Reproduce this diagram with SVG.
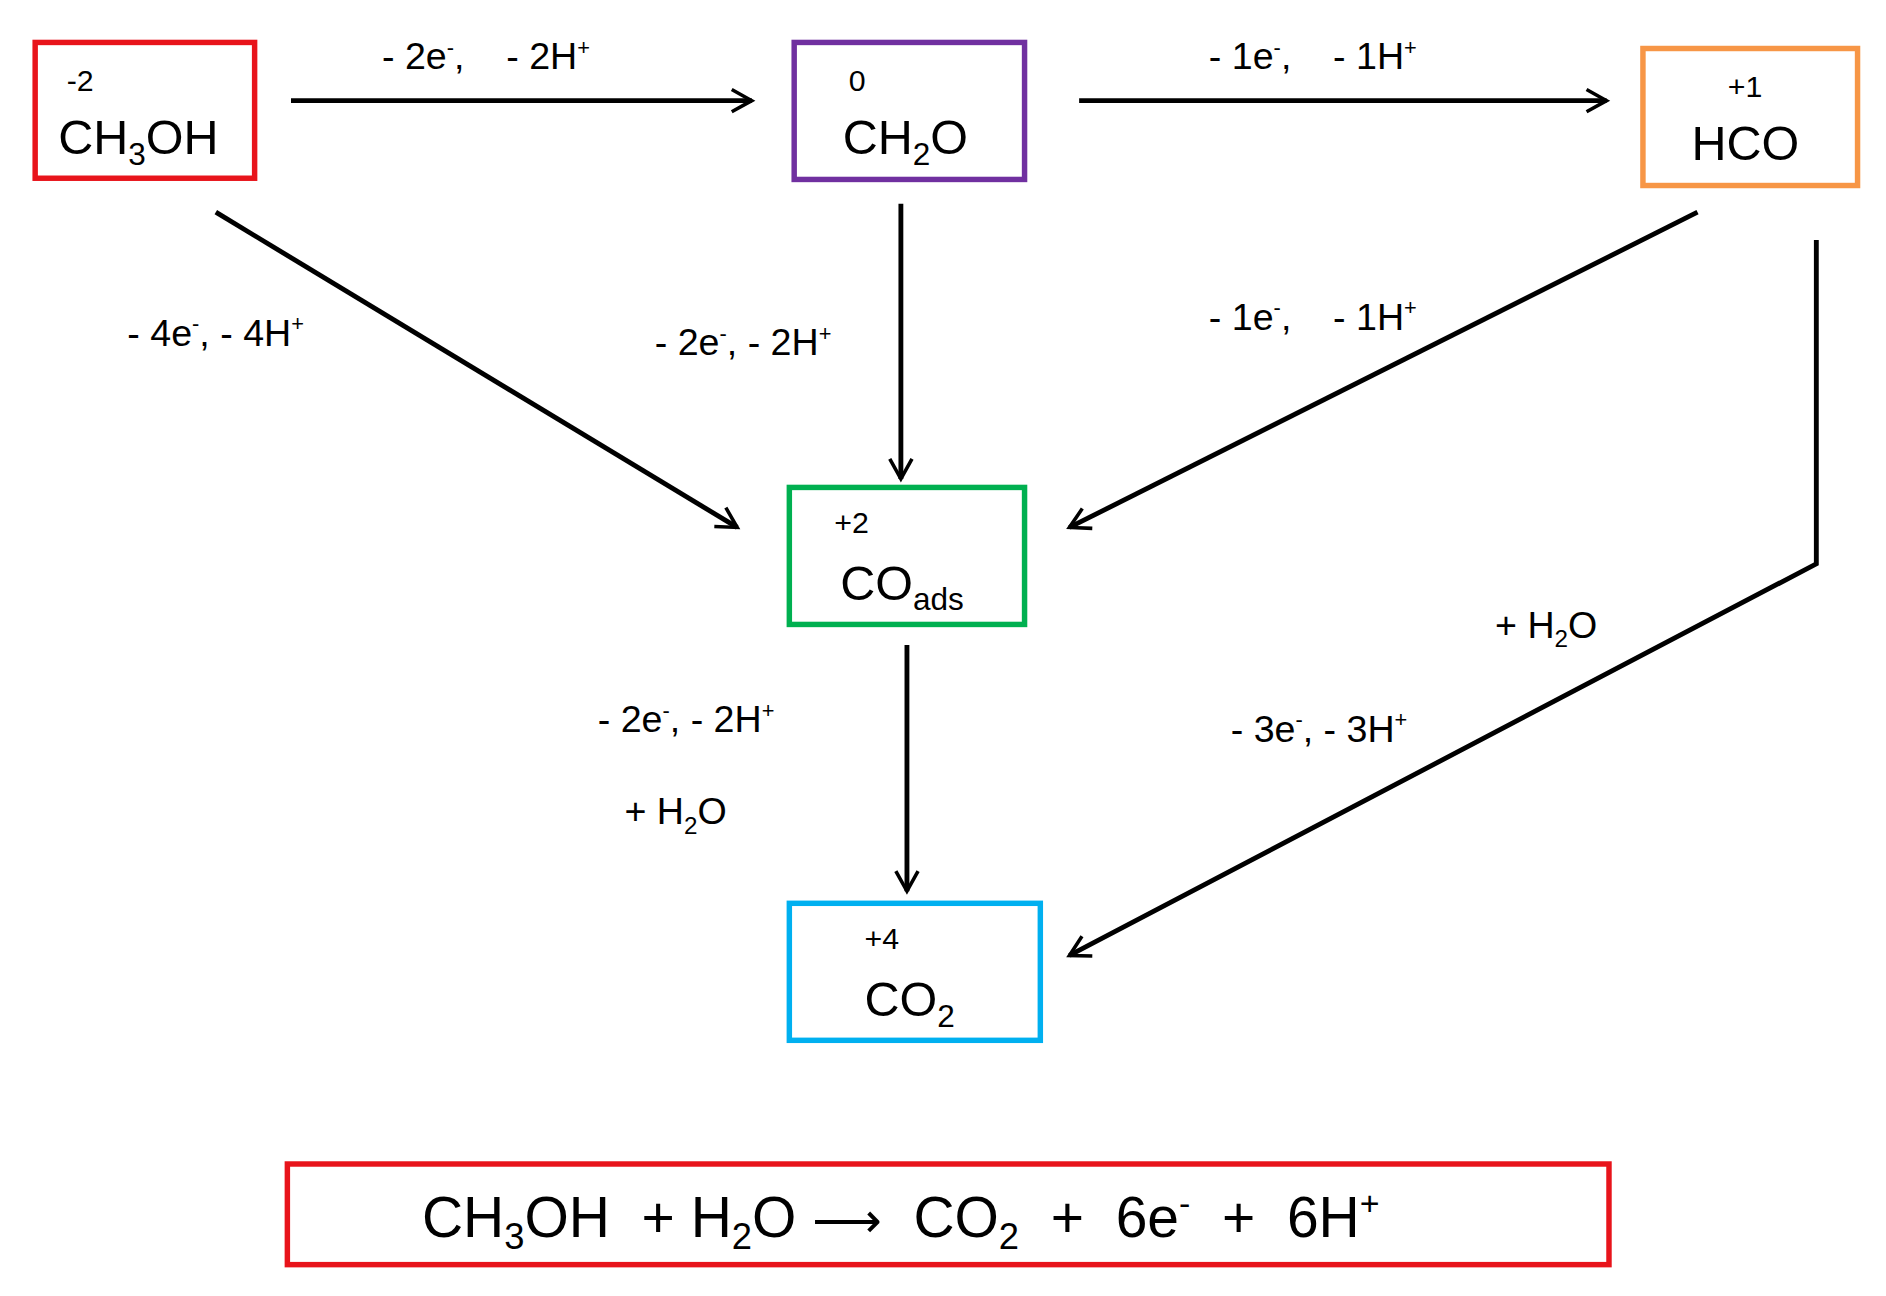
<svg xmlns="http://www.w3.org/2000/svg" width="1886" height="1296" viewBox="0 0 1886 1296">
<style>
text{font-family:"Liberation Sans",Arial,sans-serif;fill:#000}
.box{fill:none;stroke-width:4.5}
.lbl{font-size:31px}
.big{font-size:40px}
.ox{font-size:25px}
.con{stroke:#000;stroke-width:4;fill:none}
</style>
<defs>
<marker id="ah" viewBox="0 0 12 12" refX="10" refY="6" markerWidth="22" markerHeight="22" orient="auto" markerUnits="userSpaceOnUse">
<path d="M1,1 L10,6 L1,11" fill="none" stroke="#000" stroke-width="1.6"/>
</marker>
</defs>
<rect width="1886" height="1296" fill="#fff"/>
<g transform="scale(1.2125)">
<g id="connectors">
<path class="con" d="M240,83 L620,83" marker-end="url(#ah)"/>
<path class="con" d="M890,83 L1325,83" marker-end="url(#ah)"/>
<path class="con" d="M178,175 L608,435" marker-end="url(#ah)"/>
<path class="con" d="M743,168 L743,395" marker-end="url(#ah)"/>
<path class="con" d="M1400,175 L882,435" marker-end="url(#ah)"/>
<path class="con" d="M1498,198 L1498,465 L882,788" marker-end="url(#ah)"/>
<path class="con" d="M748,532 L748,735" marker-end="url(#ah)"/>
<text class="lbl" x="315" y="57" xml:space="preserve">- 2e<tspan font-size="18" dy="-12">-</tspan><tspan dy="12">,    - 2H</tspan><tspan font-size="18" dy="-12">+</tspan></text>
<text class="lbl" x="997" y="57" xml:space="preserve">- 1e<tspan font-size="18" dy="-12">-</tspan><tspan dy="12">,    - 1H</tspan><tspan font-size="18" dy="-12">+</tspan></text>
<text class="lbl" x="105" y="285" xml:space="preserve">- 4e<tspan font-size="18" dy="-12">-</tspan><tspan dy="12">, - 4H</tspan><tspan font-size="18" dy="-12">+</tspan></text>
<text class="lbl" x="540" y="293" xml:space="preserve">- 2e<tspan font-size="18" dy="-12">-</tspan><tspan dy="12">, - 2H</tspan><tspan font-size="18" dy="-12">+</tspan></text>
<text class="lbl" x="997" y="272" xml:space="preserve">- 1e<tspan font-size="18" dy="-12">-</tspan><tspan dy="12">,    - 1H</tspan><tspan font-size="18" dy="-12">+</tspan></text>
<text class="lbl" x="493" y="604" xml:space="preserve">- 2e<tspan font-size="18" dy="-12">-</tspan><tspan dy="12">, - 2H</tspan><tspan font-size="18" dy="-12">+</tspan></text>
<text class="lbl" x="515" y="680">+ H<tspan font-size="20" dy="8">2</tspan><tspan dy="-8">O</tspan></text>
<text class="lbl" x="1233" y="526">+ H<tspan font-size="20" dy="8">2</tspan><tspan dy="-8">O</tspan></text>
<text class="lbl" x="1015" y="612" xml:space="preserve">- 3e<tspan font-size="18" dy="-12">-</tspan><tspan dy="12">, - 3H</tspan><tspan font-size="18" dy="-12">+</tspan></text>
</g>
<g id="n-ch3oh">
<rect class="box" x="29" y="35" width="181" height="112" stroke="#E8141B"/>
<text class="ox" x="55" y="75">-2</text>
<text class="big" x="48" y="127">CH<tspan font-size="26" dy="9">3</tspan><tspan dy="-9">OH</tspan></text>
</g>
<g id="n-ch2o">
<rect class="box" x="655" y="35" width="190" height="113" stroke="#7030A0"/>
<text class="ox" x="700" y="75">0</text>
<text class="big" x="695" y="127">CH<tspan font-size="26" dy="9">2</tspan><tspan dy="-9">O</tspan></text>
</g>
<g id="n-hco">
<rect class="box" x="1355" y="40" width="177" height="113" stroke="#F79646"/>
<text class="ox" x="1425" y="80">+1</text>
<text class="big" x="1395" y="132">HCO</text>
</g>
<g id="n-coads">
<rect class="box" x="651" y="402" width="194" height="113" stroke="#00B050"/>
<text class="ox" x="688" y="440">+2</text>
<text class="big" x="693" y="495">CO<tspan font-size="26" dy="8">ads</tspan></text>
</g>
<g id="n-co2">
<rect class="box" x="651" y="745" width="207" height="113" stroke="#00B0F0"/>
<text class="ox" x="713" y="783">+4</text>
<text class="big" x="713" y="838">CO<tspan font-size="26" dy="9">2</tspan></text>
</g>
<g id="n-overall">
<rect class="box" x="237" y="960" width="1090" height="83" stroke="#E8141B"/>
<text font-size="47" x="348" y="1020" xml:space="preserve">CH<tspan font-size="30" dy="10">3</tspan><tspan dy="-10">OH  + H</tspan><tspan font-size="30" dy="10">2</tspan><tspan dy="-10">O </tspan><tspan font-family="DejaVu Sans,sans-serif" font-size="40">⟶</tspan><tspan>  CO</tspan><tspan font-size="30" dy="10">2</tspan><tspan dy="-10">  +  6e</tspan><tspan font-size="28" dy="-18">-</tspan><tspan dy="18">  +  6H</tspan><tspan font-size="28" dy="-18">+</tspan></text>
</g>
</g>
</svg>
